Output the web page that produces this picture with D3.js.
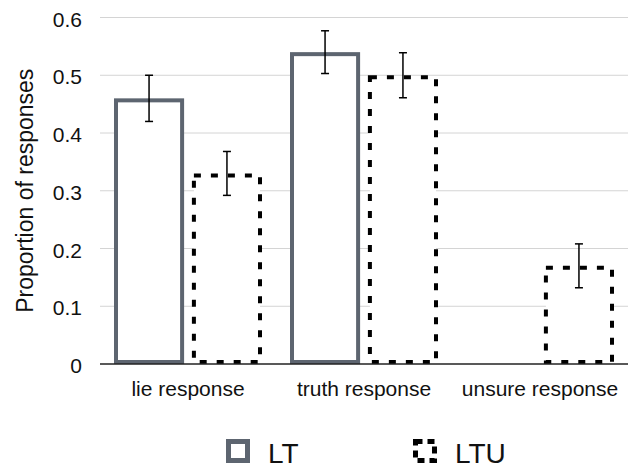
<!DOCTYPE html>
<html>
<head>
<meta charset="utf-8">
<script src="https://cdn.jsdelivr.net/npm/d3@7"></script>
<style>
  body { margin: 0; background: #fff; }
  text { font-family: "Liberation Sans", Arial, Helvetica, sans-serif; fill: #111; }
</style>
</head>
<body>
<div id="chart"></div>
<script>
// data
const categories = ["lie response", "truth response", "unsure response"];
const series = ["LT", "LTU"];
const ltValues = [0.46, 0.54, 0];
const ltuValues = [0.33, 0.50, 0.17];
const ltErrors = [0.04, 0.037, 0];
const ltuErrors = [0.038, 0.039, 0.038];
const yTicks = [0, 0.1, 0.2, 0.3, 0.4, 0.5, 0.6];

const rows = [];
categories.forEach((c, i) => {
    rows.push({ cat: c, key: "LT", value: ltValues[i], err: ltErrors[i] });
    rows.push({ cat: c, key: "LTU", value: ltuValues[i], err: ltuErrors[i] });
});

const width = 631;
const height = 469;
const margin = { top: 17.5, right: 3, bottom: 105, left: 100 };
const sw = 4;
const grey = "#5d6570";

const svg = d3.select("#chart")
    .append("svg")
    .attr("width", width)
    .attr("height", height);

const xScale = d3.scaleBand()
    .domain(categories)
    .range([margin.left, width - margin.right]);

const xInner = d3.scaleBand()
    .domain(series)
    .range([14, xScale.bandwidth() - 14])
    .paddingInner(0.1);

const yScale = d3.scaleLinear()
    .domain([0, 0.6])
    .range([height - margin.bottom, margin.top]);

// gridlines
svg.append("g")
    .selectAll("line")
    .data(yTicks.filter(d => d > 0))
    .join("line")
        .attr("x1", margin.left)
        .attr("x2", width - margin.right)
        .attr("y1", d => yScale(d))
        .attr("y2", d => yScale(d))
        .attr("stroke", "#d4d4d4")
        .attr("stroke-width", 1);

// tick labels
svg.append("g")
    .selectAll("text")
    .data(yTicks)
    .join("text")
        .attr("x", 82)
        .attr("y", d => yScale(d) + 9)
        .attr("text-anchor", "end")
        .attr("font-size", 21)
        .text(d => d === 0 ? "0" : d3.format(".1f")(d));

// bars, stroke kept inside the bar
const bars = rows.filter(d => d.value > 0);
svg.append("g")
    .selectAll("rect")
    .data(bars)
    .join("rect")
        .attr("x", d => xScale(d.cat) + xInner(d.key) + sw / 2)
        .attr("y", d => yScale(d.value) + sw / 2)
        .attr("width", xInner.bandwidth() - sw)
        .attr("height", d => yScale(0) - yScale(d.value) - sw)
        .attr("fill", "#fff")
        .attr("stroke", d => d.key === "LT" ? grey : "#000")
        .attr("stroke-width", sw)
        .attr("stroke-dasharray", d => d.key === "LT" ? null : "7,10");

// baseline
svg.append("line")
    .attr("x1", margin.left)
    .attr("x2", width - margin.right)
    .attr("y1", yScale(0))
    .attr("y2", yScale(0))
    .attr("stroke", "#222")
    .attr("stroke-width", 1.3);

// error bars
const errG = svg.append("g")
    .attr("stroke", "#000")
    .attr("stroke-width", 1.5);
bars.forEach(d => {
    const cx = xScale(d.cat) + xInner(d.key) + xInner.bandwidth() / 2;
    const y1 = yScale(d.value + d.err);
    const y2 = yScale(d.value - d.err);
    errG.append("line").attr("x1", cx).attr("x2", cx).attr("y1", y1).attr("y2", y2);
    errG.append("line").attr("x1", cx - 4).attr("x2", cx + 4).attr("y1", y1).attr("y2", y1);
    errG.append("line").attr("x1", cx - 4).attr("x2", cx + 4).attr("y1", y2).attr("y2", y2);
});

// category labels
svg.append("g")
    .selectAll("text")
    .data(categories)
    .join("text")
        .attr("x", d => xScale(d) + xScale.bandwidth() / 2)
        .attr("y", 396)
        .attr("text-anchor", "middle")
        .attr("font-size", 21)
        .text(d => d);

// y axis title
svg.append("text")
    .attr("transform", `translate(33, ${(yScale(0) + yScale(0.6)) / 2}) rotate(-90)`)
    .attr("text-anchor", "middle")
    .attr("font-size", 23)
    .text("Proportion of responses");

// legend
const legend = [
    { key: "LT", x: 226 },
    { key: "LTU", x: 413 }
];
const lg = svg.append("g");
legend.forEach(l => {
    lg.append("rect")
        .attr("x", l.x + 2.5)
        .attr("y", 441.5)
        .attr("width", 19)
        .attr("height", 19)
        .attr("fill", "#fff")
        .attr("stroke", l.key === "LT" ? grey : "#000")
        .attr("stroke-width", 5)
        .attr("stroke-dasharray", l.key === "LT" ? null : "7,5");
    lg.append("text")
        .attr("x", l.x + 42)
        .attr("y", 463)
        .attr("font-size", 28)
        .text(l.key);
});
</script>
</body>
</html>
